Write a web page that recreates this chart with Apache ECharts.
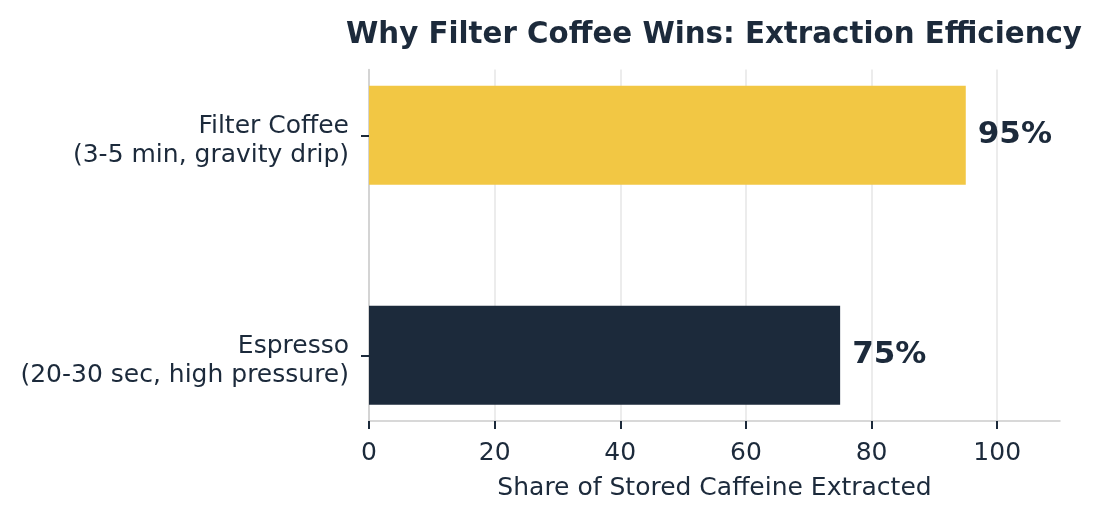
<!DOCTYPE html>
<html>
<head>
<meta charset="utf-8">
<script src="https://cdn.jsdelivr.net/npm/echarts@6/dist/echarts.min.js"></script>
<style>html,body{margin:0;padding:0;background:#fff}#c{width:1102px;height:520px}</style>
</head>
<body>
<div id="c"></div>
<script>
const categories = ['Espresso\n(20-30 sec, high pressure)', 'Filter Coffee\n(3-5 min, gravity drip)'];
const values = [75, 95];
const barColors = ['#1C2A3B', '#F2C744'];
const xTicks = [0, 20, 40, 60, 80, 100];
const titleText = 'Why Filter Coffee Wins: Extraction Efficiency';
const xName = 'Share of Stored Caffeine Extracted';

const NAVY = '#1C2A3B';
const FONT = 'DejaVu Sans';
const chart = echarts.init(document.getElementById('c'), null, {renderer: 'canvas'});
chart.setOption({
  backgroundColor: '#ffffff',
  animation: false,
  title: {
    text: titleText, left: 346, top: 20.5, padding: 0,
    textStyle: {fontFamily: FONT, fontSize: 29.3, fontWeight: 'bold', color: NAVY}
  },
  grid: [
    {left: 369, right: 42, top: 69.5, bottom: 99},
    {left: 369, right: 42, top: 25.3, bottom: 54.7}
  ],
  xAxis: [
    {
      gridIndex: 0, type: 'value', min: 0, max: 110, interval: 20,
      name: xName, nameLocation: 'middle', nameGap: 55,
      nameTextStyle: {fontFamily: FONT, fontSize: 25, color: NAVY},
      axisLine: {show: true, lineStyle: {color: '#cccccc', width: 1.5}},
      axisTick: {show: true, customValues: xTicks, length: 8, lineStyle: {color: NAVY, width: 2}},
      axisLabel: {
        customValues: xTicks,
        fontFamily: FONT, fontSize: 25, color: NAVY, margin: 20
      },
      splitLine: {show: true, lineStyle: {color: '#e6e6e6', width: 1.5}}
    },
    {
      gridIndex: 1, type: 'value', min: 0, max: 110, show: false
    }
  ],
  yAxis: [
    {
      gridIndex: 0, type: 'value', min: 0, max: 1,
      axisLine: {show: true, lineStyle: {color: '#cccccc', width: 1.5}},
      axisTick: {show: false}, axisLabel: {show: false}, splitLine: {show: false}
    },
    {
      gridIndex: 1, type: 'category', data: categories,
      axisLine: {show: false},
      axisTick: {show: true, alignWithLabel: true, length: 8, lineStyle: {color: NAVY, width: 2}},
      axisLabel: {
        margin: 20, align: 'right',
        formatter: v => {
          const parts = v.split('\n');
          return '{a|' + parts[0] + '}\n{b|' + parts[1] + '}';
        },
        rich: {
          a: {fontFamily: FONT, fontSize: 25, color: NAVY, lineHeight: 40, align: 'right'},
          b: {fontFamily: FONT, fontSize: 25, color: NAVY, lineHeight: 17, align: 'right'}
        }
      },
      splitLine: {show: false}
    }
  ],
  series: [{
    type: 'bar', xAxisIndex: 1, yAxisIndex: 1, barWidth: 99,
    data: values.map((v, i) => ({value: v, itemStyle: {color: barColors[i]}})),
    label: {
      show: true, position: 'right', distance: 12, formatter: '{c}%',
      fontFamily: FONT, fontSize: 31, fontWeight: 'bold', color: NAVY
    }
  }]
});
</script>
</body>
</html>
